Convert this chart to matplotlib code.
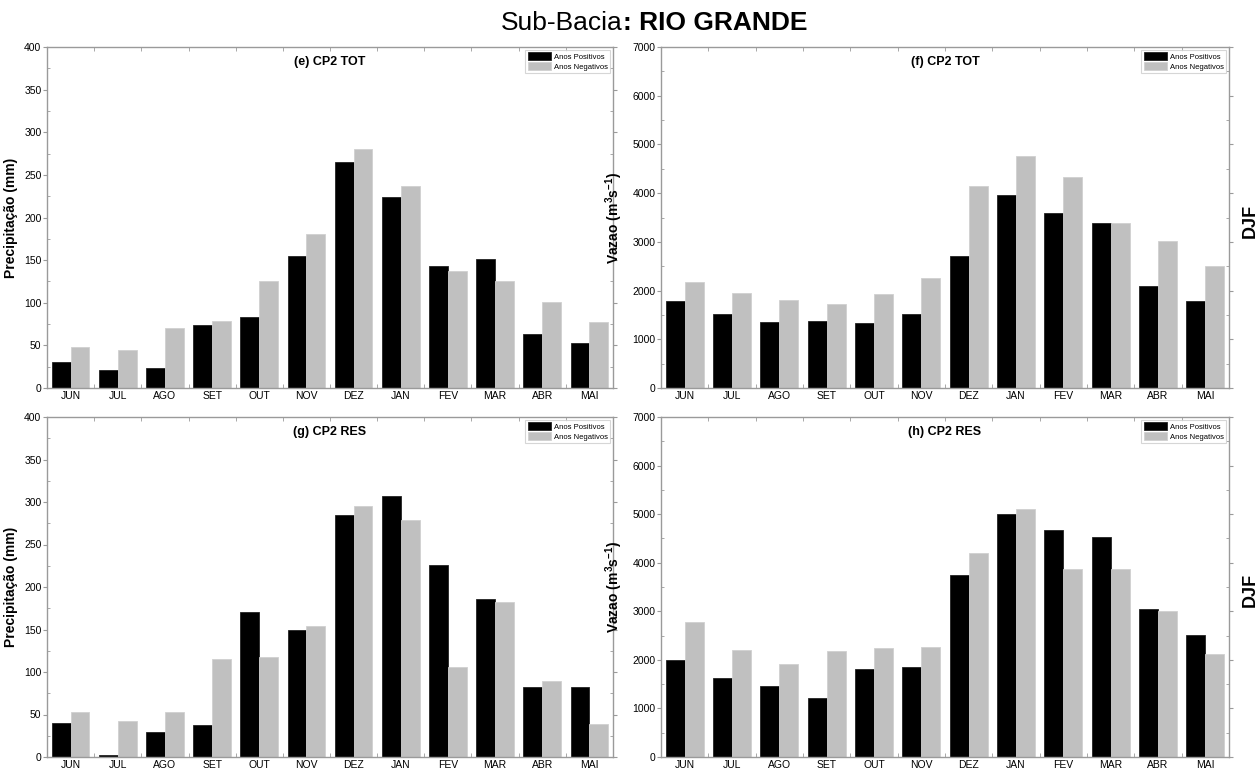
import matplotlib
matplotlib.use("Agg")
import matplotlib.pyplot as plt
import numpy as np

plt.rcParams['font.family'] = ['Liberation Sans', 'DejaVu Sans']
plt.rcParams['mathtext.fontset'] = 'custom'
plt.rcParams['mathtext.rm'] = 'Liberation Sans'
plt.rcParams['mathtext.bf'] = 'Liberation Sans:bold'

months = ["JUN", "JUL", "AGO", "SET", "OUT", "NOV", "DEZ", "JAN", "FEV", "MAR", "ABR", "MAI"]

# (e) CP2 TOT - precipitation (mm)
prec_tot_pos = [30, 21.5, 23.5, 74, 83, 155, 265.5, 224, 143, 151, 63, 53]
prec_tot_neg = [48, 44, 70, 79, 125, 181, 280, 237, 137, 125, 101, 78]

# (f) CP2 TOT - streamflow (m3/s)
vaz_tot_pos = [1780, 1525, 1355, 1380, 1335, 1525, 2710, 3970, 3590, 3395, 2085, 1780]
vaz_tot_neg = [2170, 1955, 1810, 1725, 1935, 2260, 4155, 4755, 4330, 3395, 3025, 2510]

# (g) CP2 RES - precipitation (mm)
prec_res_pos = [39.5, 2, 30, 37.5, 170.5, 150, 285, 306.5, 226, 185.5, 82.5, 82]
prec_res_neg = [53.5, 42.5, 53.5, 115.5, 118, 154, 295, 278.5, 105.5, 182.5, 89.5, 38.5]

# (h) CP2 RES - streamflow (m3/s)
vaz_res_pos = [2005, 1625, 1460, 1210, 1820, 1855, 3755, 5005, 4680, 4520, 3040, 2505]
vaz_res_neg = [2775, 2200, 1910, 2190, 2240, 2275, 4190, 5110, 3870, 3870, 3000, 2115]

legend_labels = ["Anos Positivos", "Anos Negativos"]
pos_color = "#000000"
neg_color = "#c0c0c0"
spine_color = "#9a9a9a"

fig = plt.figure(figsize=(12.6, 7.69), dpi=100)

W = 1260.0
H = 769.0
def box(x0, x1, ytop, ybot):
    return [x0 / W, 1 - ybot / H, (x1 - x0) / W, (ybot - ytop) / H]

prec_label = "Precipitação (mm)"
vaz_label = r"Vazao (m$^\mathbf{3}$s$^\mathbf{-1}$)"

panels = [
    (box(47, 613, 47, 388), prec_tot_pos, prec_tot_neg, "(e) CP2 TOT", 400, 50, 25, prec_label, 18),
    (box(661, 1229, 47, 388), vaz_tot_pos, vaz_tot_neg, "(f) CP2 TOT", 7000, 1000, 500, vaz_label, 625),
    (box(47, 613, 417, 757), prec_res_pos, prec_res_neg, "(g) CP2 RES", 400, 50, 25, prec_label, 18),
    (box(661, 1229, 417, 757), vaz_res_pos, vaz_res_neg, "(h) CP2 RES", 7000, 1000, 500, vaz_label, 625),
]

x = np.arange(len(months))
bw = 0.4
for rect, pos, neg, title, ymax, major, minor, ylabel, label_x in panels:
    ax = fig.add_axes(rect)
    b1 = ax.bar(x - bw / 2, pos, width=bw, color=pos_color, edgecolor="#222222", linewidth=0.6)
    b2 = ax.bar(x + bw / 2, neg, width=bw, color=neg_color, edgecolor="#d0d0d0", linewidth=0.6)
    ax.set_xlim(-0.5, len(months) - 0.5)
    ax.set_ylim(0, ymax)
    ax.set_yticks(np.arange(0, ymax + 1, major))
    ax.set_yticks(np.arange(0, ymax + 1, minor), minor=True)
    ax.set_xticks(x)
    ax.set_xticklabels(months)
    ax.set_xticks(np.arange(-0.5, len(months), 1.0), minor=True)
    ax.tick_params(axis='x', which='major', length=0, labelsize=7.5, pad=2)
    ax.tick_params(axis='x', which='minor', length=3, direction='in', top=True, color=spine_color)
    ax.tick_params(axis='y', which='major', length=3, direction='out', labelsize=7.5, pad=1, color=spine_color)
    ax.tick_params(axis='y', which='minor', length=2, direction='in', right=True, color=spine_color)
    ax.tick_params(axis='y', which='major', right=True)
    for s in ax.spines.values():
        s.set_color(spine_color)
        s.set_linewidth(1.0)
    ax.set_ylabel(ylabel, fontsize=10, fontweight='bold')
    ax_left_px = rect[0] * W
    ax.yaxis.set_label_coords((label_x - ax_left_px) / (rect[2] * W), 0.5)
    ax.text(0.5, 0.955, title, transform=ax.transAxes, ha='center', va='center',
            fontsize=9, fontweight='bold')
    leg = ax.legend([b1, b2], legend_labels, loc='upper right', fontsize=5.5,
                    frameon=True, fancybox=False, borderpad=0.3, labelspacing=0.2,
                    handlelength=3.0, handleheight=1.2, handletextpad=0.4,
                    borderaxespad=0.4)
    leg.get_frame().set_edgecolor("#cccccc")
    leg.get_frame().set_linewidth(0.8)

title_split = 623 / W
fig.text(title_split, 1 - 23 / H, "Sub-Bacia", ha='right', va='center', fontsize=19)
fig.text(title_split, 1 - 23 / H, ": RIO GRANDE", ha='left', va='center', fontsize=19, fontweight='bold')

fig.text(1250 / W, 1 - 221 / H, "DJF", rotation=90, ha='center', va='center',
         fontsize=13, fontweight='bold')
fig.text(1250 / W, 1 - 590 / H, "DJF", rotation=90, ha='center', va='center',
         fontsize=13, fontweight='bold')

fig.savefig("out.png", dpi=100, facecolor='white')
